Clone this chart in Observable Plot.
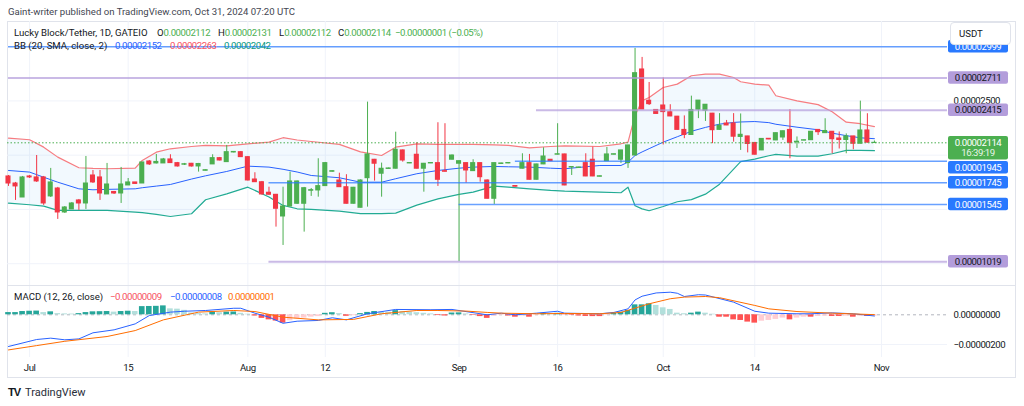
<!DOCTYPE html>
<html>
<head>
<meta charset="utf-8">
<script src="https://cdn.jsdelivr.net/npm/d3@7"></script>
<script src="https://cdn.jsdelivr.net/npm/@observablehq/plot@0.6"></script>
<style>
  html,body{margin:0;padding:0;background:#fff;}
  #chart{position:relative;width:1024px;height:406px;overflow:hidden;font-family:Roboto,"Liberation Sans",sans-serif;color:#131722;}
  .abs{position:absolute;white-space:nowrap;font-size:9.6px;line-height:12px;}
  .num{letter-spacing:-0.45px;}
  #frame{position:absolute;left:7px;top:21px;width:1009px;height:357px;box-sizing:border-box;border:1px solid #e0e3eb;}
  #sep{position:absolute;left:7px;top:285px;width:1009px;height:1px;background:#e0e3eb;}
  #pricePane{position:absolute;left:0;top:21px;}
  #macdPane{position:absolute;left:0;top:285px;}
  #usdt{position:absolute;left:950px;top:22px;width:61px;height:23px;box-sizing:border-box;border:1px solid #e0e3eb;border-radius:4px;background:#fff;font-size:9.6px;line-height:21px;padding-left:8px;}
</style>
</head>
<body>
<div id="chart">
  <div id="frame"></div>
  <div id="pricePane"></div>
  <div id="macdPane"></div>
  <div id="sep"></div>
  <div id="legends"></div>
  <div id="usdt">USDT</div>
</div>
<script>
// ---------- DATA (prices in units of 0.00000001 USDT) ----------
const UNIT = 1e-8;
const open  = [1804,1739,1610,1804,1795,1795,1620,1693,1472,1500,1583,1555,1813,1795,1638,1661,1647,1721,1749,1739,
               1942,1924,1924,1961,1927,1912,1921,1896,1856,1915,1973,1936,2025,2028,1982,1776,1751,1654,1635,1435,
               1527,1552,1552,1672,1675,1715,1847,1767,1705,1552,1515,1788,1958,1829,1873,1875,2044,1924,2004,1875,
               1924,1927,1853,1958,1921,1927,1853,1927,1767,1598,1919,1924,1716,1875,1927,1773,1915,1958,2004,2007,
               1887,1882,1927,1958,1801,1945,2004,1958,1927,1997,2790,2502,2417,2458,2396,2355,2233,2186,2419,2410,
               2383,2233,2292,2292,2168,2173,2113,2044,2151,2136,2163,2233,2119,2134,2138,2233,2203,2216,2154,2140,
               2173,2105,2228,2112];
const high  = [1813,1749,1804,1813,1997,1804,1878,1703,1527,1564,1592,1988,1859,1859,1924,1666,1887,1785,1749,1933,
               1951,2007,1970,2004,1933,1924,1924,1924,1864,2004,1979,2090,2034,2034,1988,1838,1758,1705,1638,1705,
               1844,1762,1703,1693,1967,1933,1855,1834,1820,1703,1772,2489,1961,1927,1882,2212,2048,1930,2115,1924,
               1930,2299,2290,2002,1947,1928,1958,1928,1772,1928,1926,1930,1718,2013,2007,1916,2068,1959,2290,2009,
               1893,1889,2013,2074,1808,2071,2010,2045,2091,2984,2901,2670,2419,2712,2465,2357,2362,2544,2504,2467,
               2385,2383,2320,2383,2380,2174,2115,2151,2153,2205,2223,2419,2168,2140,2218,2234,2336,2218,2214,2196,
               2174,2498,2382,2131];
const low   = [1712,1583,1610,1785,1749,1537,1610,1408,1463,1500,1491,1500,1739,1583,1638,1638,1555,1721,1730,1739,
               1905,1919,1924,1924,1891,1905,1891,1844,1855,1915,1947,1933,2021,1979,1762,1749,1633,1629,1337,1168,
               1523,1546,1291,1620,1613,1712,1845,1703,1550,1550,1514,1521,1761,1613,1870,1873,1936,1922,1873,1659,
               1922,1712,1845,1956,1019,1742,1850,1751,1597,1546,1917,1922,1707,1873,1772,1772,1913,1944,2002,1719,
               1813,1880,1802,1802,1799,1942,2002,1924,1878,1996,2420,2458,2378,2094,2355,2231,2152,2185,2337,2311,
               2106,2231,2272,2120,2044,2021,2002,2042,2143,2134,2136,1967,2062,2132,2136,2182,2201,2013,2057,2013,
               2050,2103,2111,2112];
const close = [1739,1712,1795,1795,1758,1555,1749,1472,1518,1555,1555,1739,1749,1647,1730,1647,1730,1749,1735,1933,
               1915,1938,1961,1927,1896,1917,1896,1919,1862,1973,1951,2028,2030,1982,1767,1751,1638,1635,1506,1527,
               1758,1758,1696,1678,1715,1927,1853,1705,1552,1700,1767,2007,1921,1875,1878,2050,1951,1928,1875,1921,
               1928,1773,1847,1997,1945,1859,1927,1797,1598,1927,1924,1928,1709,1927,1773,1915,1988,1945,2009,1721,
               1891,1887,1804,1804,1806,2007,2009,2044,2090,2756,2421,2470,2380,2397,2357,2233,2186,2417,2503,2465,
               2230,2272,2274,2170,2188,2103,2004,2150,2145,2203,2221,2113,2124,2138,2216,2212,2223,2147,2140,2173,
               2105,2228,2115,2114];

// time axis: bar index of each labelled day (two exchange days are missing in Aug/Sep)
const tickIdx    = [3, 17, 34, 45, 64, 78, 93, 106, 124];
const tickLabels = ["Jul", "15", "Aug", "12", "Sep", "16", "Oct", "14", "Nov"];
const priceGrid  = [1000, 1500, 2000, 2500, 3000];
const priceTicks = [2500];            // the others sit under the level labels

// Bollinger Bands (20, SMA, close, 2), read at these bars
const bbIdx   = [0,3,5,7,10,12,14,18,19,21,23,26,28,31,34,37,39,41,43,47,50,53,55,58,61,64,66,69,71,74,77,79,84,87,88,89,90,91,93,95,97,99,101,103,104,106,108,109,112,115,117,119,121,123];
const bbUpper = [2157,2142,2074,1982,1884,1878,1875,1880,1951,2028,2059,2080,2090,2085,2105,2120,2161,2140,2126,2099,2030,1997,2074,2105,2099,2099,2099,2095,2090,2068,2080,2085,2080,2105,2120,2366,2502,2532,2624,2655,2732,2747,2747,2716,2677,2655,2645,2548,2500,2466,2400,2304,2290,2263];
const bbBasis = [1859,1844,1797,1751,1690,1681,1685,1690,1700,1715,1730,1780,1810,1850,1899,1890,1870,1845,1813,1792,1751,1751,1783,1829,1859,1880,1890,1896,1893,1890,1880,1875,1905,1905,1936,1997,2030,2060,2120,2170,2220,2256,2286,2302,2306,2310,2300,2285,2258,2234,2203,2180,2160,2152];
const bbLower = [1558,1543,1530,1491,1491,1491,1491,1475,1470,1454,1435,1460,1589,1644,1705,1615,1537,1506,1500,1485,1462,1462,1466,1540,1598,1638,1659,1715,1705,1690,1675,1668,1659,1654,1705,1534,1505,1488,1527,1571,1590,1641,1733,1871,1940,1963,1995,2007,1991,1991,2013,2044,2045,2042];

// horizontal levels drawn on the chart
const levelVal  = [2999, 2711, 2415, 1945, 1745, 1545, 1019];
const levelKind = ["blue", "purple", "purple", "blue", "blue", "blue", "purple"];
const levelFrom = [0, 0, 75, 72, 37, 64, 37];

// MACD (12, 26, close)
const macdHist = [15,15,22,24,25,15,20,8,6,5, 8,15,20,21,22,18,22,24,22,55,
                  56,57,60,40,38,30,12,8,6,18, 14,18,19,10,4,-8,-24,-34,-42,-56,
                  -40,-28,-22,-16,-12,10,14,8,-10,-6, 8,16,22,18,17,28,22,18,14,10,
                  6,-5,-8,12,13,6,-4,-12,-24,-10, -4,-8,-16,-8,-16,-4,10,6,10,-2,
                  -4,-8,-11,-12,-12,-4,10,18,29,67, 67,74,63,47,36,11,7,11,18,11,
                  4,-16,-16,-34,-38,-49,-56,-43,-38,-31, -22,-34,-22,-16,-16,-11,-9,-11,-11,-9,
                  -16,-9,-11,-9];
const macdIdx = [0,4,6,8,10,12,15,18,20,23,25,28,32,33,35,37,39,41,44,46,48,51,55,60,63,68,70,72,75,78,79,84,86,88,89,90,92,94,95,96,98,99,103,106,108,112,114,117,120,123];
const macdVal = [-213,-166,-157,-168,-162,-121,-101,-61,-5,18,24,29,44,44,11,-16,-57,-43,-38,-20,-34,7,36,34,36,0,11,0,11,24,11,7,16,40,100,125,147,152,145,123,135,133,85,24,11,7,7,13,7,-8];
const sigIdx  = [0,4,8,14,18,22,27,32,35,39,44,49,53,58,61,65,68,70,75,79,84,87,91,94,96,99,101,106,108,112,117,123];
const sigVal  = [-236,-207,-178,-146,-106,-34,18,29,22,-16,-34,-31,7,29,29,25,16,11,7,9,7,16,74,108,119,123,115,63,40,22,11,1];
const macdTicks = [0, -200];

// ---------- helpers ----------
const N = close.length;
const fmt = v => (v < 0 ? "\u2212" : "") + (Math.abs(v) * UNIT).toFixed(8);
const GREEN = "#4caf50", RED = "#f23645";
const FONT = "Roboto, 'Liberation Sans', sans-serif";
const xDomain = [-0.14, 133.38];

const bars = d3.range(N).map(i => ({i, o: open[i], h: high[i], l: low[i], c: close[i]}));
const up = bars.filter(d => d.c >= d.o), dn = bars.filter(d => d.c < d.o);
const bb = bbIdx.map((i, k) => ({i, up: bbUpper[k], mid: bbBasis[k], lo: bbLower[k]}));
const levels = levelVal.map((v, k) => ({v, kind: levelKind[k], from: levelFrom[k]}));
const hw = 0.36;
const axisStyle = {background: "transparent", fontFamily: FONT, fontSize: "9.6px", color: "#131722", overflow: "visible", letterSpacing: "-0.45px"};

// ---------- price pane ----------
const price = Plot.plot({
  width: 1024, height: 264,
  marginLeft: 7, marginRight: 77, marginTop: 0, marginBottom: 0,
  x: {domain: xDomain, axis: null, label: null},
  y: {domain: [799, 3232], label: null},
  style: axisStyle,
  marks: [
    Plot.gridX(tickIdx, {stroke: "#f0f3fa", strokeOpacity: 1}),
    Plot.gridY(priceGrid, {stroke: "#f0f3fa", strokeOpacity: 1}),
    Plot.areaY(bb, {x: "i", y1: "lo", y2: "up", fill: "#2196f3", fillOpacity: 0.06}),
    Plot.line(bb, {x: "i", y: "up", stroke: "#f77c80", strokeWidth: 1.2}),
    Plot.line(bb, {x: "i", y: "mid", stroke: "#2962ff", strokeWidth: 1}),
    Plot.line(bb, {x: "i", y: "lo", stroke: "#22ab94", strokeWidth: 1.2}),
    Plot.ruleX(up, {x: "i", y1: "l", y2: "h", stroke: GREEN, strokeWidth: 1}),
    Plot.ruleX(dn, {x: "i", y1: "l", y2: "h", stroke: RED, strokeWidth: 1}),
    Plot.rect(up, {x1: d => d.i - hw, x2: d => d.i + hw, y1: "o", y2: "c", fill: GREEN, insetTop: -0.5, insetBottom: -0.5}),
    Plot.rect(dn, {x1: d => d.i - hw, x2: d => d.i + hw, y1: "o", y2: "c", fill: RED, insetTop: -0.5, insetBottom: -0.5}),
    Plot.ruleY(levels.filter(d => d.kind === "purple"), {y: "v", x1: "from", x2: () => xDomain[1], stroke: "#b39ddb", strokeWidth: 2, strokeOpacity: 0.7}),
    Plot.ruleY(levels.filter(d => d.kind === "blue"), {y: "v", x1: "from", x2: () => xDomain[1], stroke: "#2979ff", strokeWidth: 1.5, strokeOpacity: 0.7}),
    Plot.ruleY([close[N - 1]], {x1: () => xDomain[0], x2: () => xDomain[1], stroke: GREEN, strokeDasharray: "1.5,2", strokeWidth: 1}),
    Plot.axisY(priceTicks, {anchor: "right", tickSize: 0, tickPadding: 6, tickFormat: fmt, fill: "#131722", label: null})
  ]
});
document.getElementById("pricePane").appendChild(price);

// right-hand price labels, placed with the plot's own scales
{
  const ys = price.scale("y"), xs = price.scale("x");
  const bx = xs.range[1] + 1, bw = 60;
  const labs = levels.map(d => ({v: d.v, kind: d.kind, h: 12.5}));
  labs.push({v: close[N - 1], kind: "last", h: 23.5});
  labs.forEach(d => { d.top = ys.apply(d.v) - (d.kind === "last" ? 6.4 : d.h / 2); });
  labs.sort((a, b) => a.top - b.top);
  for (let k = 1; k < labs.length; k++) {
    const p = labs[k - 1];
    if (labs[k].top < p.top + p.h + 1.5) labs[k].top = p.top + p.h + 1.5;
  }
  const fills = {blue: "#2979ff", purple: "#b39ddb", last: GREEN};
  const texts = {blue: "#ffffff", purple: "#131722", last: "#ffffff"};
  const g = d3.select(price).append("g").attr("font-family", FONT).attr("font-size", "9.6px").attr("text-anchor", "middle");
  for (const d of labs) {
    g.append("rect").attr("x", bx).attr("y", d.top).attr("width", bw).attr("height", d.h).attr("rx", 2).attr("fill", fills[d.kind]);
    g.append("text").attr("x", bx + bw / 2).attr("y", d.top + 6.4).attr("dy", "0.35em").attr("fill", texts[d.kind]).text(fmt(d.v));
    if (d.kind === "last") {
      g.append("text").attr("x", bx + bw / 2).attr("y", d.top + 17).attr("dy", "0.35em").attr("fill", "#e8f5e9").text("16:39:19");
    }
  }
}

// ---------- MACD pane ----------
const hist = macdHist.map((v, i) => ({i, v, prev: i > 0 ? macdHist[i - 1] : v}));
const hPosUp = hist.filter(d => d.v >= 0 && d.v >= d.prev);
const hPosDn = hist.filter(d => d.v >= 0 && d.v < d.prev);
const hNegDn = hist.filter(d => d.v < 0 && d.v <= d.prev);
const hNegUp = hist.filter(d => d.v < 0 && d.v > d.prev);
const macdPts = macdIdx.map((i, k) => ({i, v: macdVal[k]}));
const sigPts = sigIdx.map((i, k) => ({i, v: sigVal[k]}));
const hb = 0.4;
const histRect = (data, fill) => Plot.rect(data, {x1: d => d.i - hb, x2: d => d.i + hb, y1: () => 0, y2: "v", fill});

const macd = Plot.plot({
  width: 1024, height: 92,
  marginLeft: 7, marginRight: 77, marginTop: 0, marginBottom: 20,
  x: {domain: xDomain, label: null},
  y: {domain: [-287, 197], label: null},
  style: axisStyle,
  marks: [
    Plot.gridX(tickIdx, {stroke: "#f0f3fa", strokeOpacity: 1}),
    Plot.gridY([-200], {stroke: "#f0f3fa", strokeOpacity: 1}),
    Plot.ruleY([0], {stroke: "#b2b5be", strokeDasharray: "3,3"}),
    histRect(hPosUp, "#26a69a"),
    histRect(hPosDn, "#b2dfdb"),
    histRect(hNegDn, "#ff5252"),
    histRect(hNegUp, "#ffcdd2"),
    Plot.line(macdPts, {x: "i", y: "v", stroke: "#2962ff", strokeWidth: 1}),
    Plot.line(sigPts, {x: "i", y: "v", stroke: "#ff6d00", strokeWidth: 1}),
    Plot.axisX(tickIdx, {anchor: "bottom", tickSize: 0, tickPadding: 7, tickFormat: d => tickLabels[tickIdx.indexOf(d)], fill: "#131722", label: null}),
    Plot.axisY(macdTicks, {anchor: "right", tickSize: 0, tickPadding: 6, tickFormat: fmt, fill: "#131722", label: null})
  ]
});
document.getElementById("macdPane").appendChild(macd);

// ---------- legends / captions ----------
const L = document.getElementById("legends");
function put(x, top, parts) {
  const div = document.createElement("div");
  div.className = "abs";
  div.style.left = x + "px"; div.style.top = top + "px";
  for (const [t, c, num] of parts) {
    const s = document.createElement("span"); s.textContent = t; s.style.color = c;
    if (num) s.className = "num";
    div.appendChild(s);
  }
  L.appendChild(div);
}
const DARK = "#131722";
put(8, 6, [["Gaint-writer published on TradingView.com, Oct 31, 2024 07:20 UTC", "#434651"]]);
const chg = close[N - 1] - close[N - 2];
const pct = (chg / close[N - 2] * 100);
put(14, 27, [["Lucky Block/Tether, 1D, GATEIO", DARK]]);
put(157, 27, [["O", DARK], [fmt(open[N - 1]), GREEN, 1]]);
put(218, 27, [["H", DARK], [fmt(high[N - 1]), GREEN, 1]]);
put(279, 27, [["L", DARK], [fmt(low[N - 1]), GREEN, 1]]);
put(338, 27, [["C", DARK], [fmt(close[N - 1]), GREEN, 1]]);
put(395, 27, [[fmt(chg) + " (" + (pct < 0 ? "\u2212" : "") + Math.abs(pct).toFixed(2) + "%)", GREEN, 1]]);
put(14, 40, [["BB (20, SMA, close, 2)", DARK]]);
put(115, 40, [[fmt(bbBasis[bbBasis.length - 1]), "#2962ff", 1]]);
put(170, 40, [[fmt(bbUpper[bbUpper.length - 1]), "#f7525f", 1]]);
put(224, 40, [[fmt(bbLower[bbLower.length - 1]), "#089981", 1]]);
put(14, 291, [["MACD (12, 26, close)", DARK]]);
put(110, 291, [[fmt(macdHist[N - 1]), "#f7525f", 1]]);
put(170, 291, [[fmt(macdVal[macdVal.length - 1]), "#2962ff", 1]]);
put(228, 291, [[fmt(sigVal[sigVal.length - 1]), "#ff6d00", 1]]);
// footer
const f = document.createElement("div");
f.className = "abs"; f.style.left = "8px"; f.style.top = "385px"; f.style.fontSize = "11px"; f.style.lineHeight = "14px";
f.innerHTML = '<span style="font-weight:900;letter-spacing:-1px;color:#131722;font-family:\'Liberation Sans\',sans-serif">TV</span><span style="margin-left:5px;color:#2a2e39">TradingView</span>';
L.appendChild(f);
</script>
</body>
</html>
